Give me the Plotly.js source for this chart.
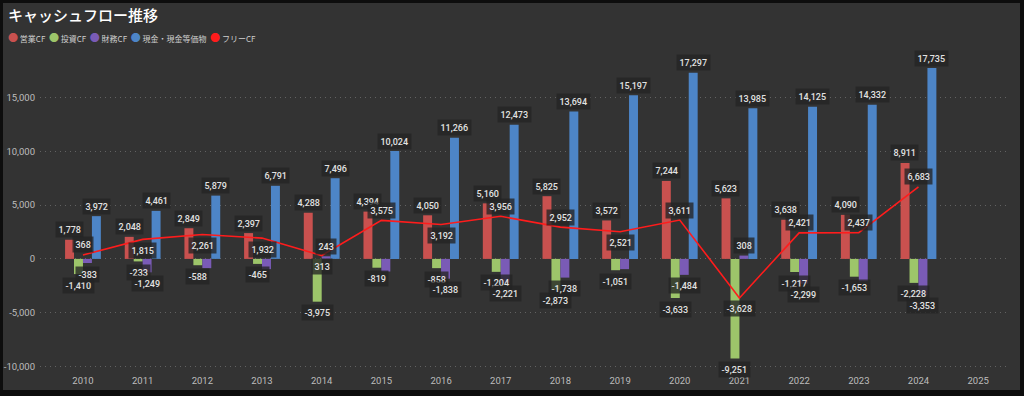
<!DOCTYPE html>
<html>
<head>
<meta charset="utf-8">
<script src="https://cdn.plot.ly/plotly-3.0.1.min.js"></script>
<style>
  html, body { margin: 0; padding: 0; background: #0d0d0d; width: 1024px; height: 396px; overflow: hidden; }
  #chart { position: absolute; left: 3px; top: 3px; width: 1017px; height: 387px; }
</style>
</head>
<body>
<div id="chart"></div>
<script>
// ---- data ----
const years   = ['2010','2011','2012','2013','2014','2015','2016','2017','2018','2019','2020','2021','2022','2023','2024','2025'];
const opCF    = [1778, 2048, 2849, 2397, 4288, 4394, 4050, 5160, 5825, 3572, 7244, 5623, 3638, 4090, 8911, null];
const invCF   = [-1410, -233, -588, -465, -3975, -819, -858, -1204, -2873, -1051, -3633, -9251, -1217, -1653, -2228, null];
const finCF   = [-383, -1249, -860, -950, 243, -1170, -1838, -2221, -1738, -950, -1484, 308, -2299, -2070, -3353, null];
const cash    = [3972, 4461, 5879, 6791, 7496, 10024, 11266, 12473, 13694, 15197, 17297, 13985, 14125, 14332, 17735, null];
const freeCF  = [368, 1815, 2261, 1932, 313, 3575, 3192, 3956, 2952, 2521, 3611, -3628, 2421, 2437, 6683, null];
const seriesNames = ['営業CF', '投資CF', '財務CF', '現金・現金等価物', 'フリーCF'];
const yTickVals  = [-10000, -5000, 0, 5000, 10000, 15000];
const yTickText  = ['-10,000', '-5,000', '0', '5,000', '10,000', '15,000'];

// ---- styling ----
const colors = ['#c9514f', '#9dc56a', '#7a5bb6', '#4d85c7', '#ff1c1c'];
const barOffsets = [-13.5, -4.5, 4.5, 13.5];
const hiddenBarLabels = { 2: ['2012', '2013', '2015', '2019', '2023'] };
const freeLabelSide = ['up','down','down','down','down','up','down','up','up','down','up','down','up','up','up','up'];
const labelFont = { family: 'Roboto, DejaVu Sans, sans-serif', size: 9, color: '#e2e2e2', weight: 500 };
const labelBg = 'rgba(36,36,36,0.78)';
const fmt = v => (v < 0 ? '-' : '') + Math.abs(v).toLocaleString('en-US');

const barSeries = [opCF, invCF, finCF, cash];
const traces = barSeries.map((vals, si) => ({
  type: 'bar', name: seriesNames[si], x: years, y: vals,
  marker: { color: colors[si] }, showlegend: false, hoverinfo: 'skip'
}));
traces.push({
  type: 'scatter', mode: 'lines', name: seriesNames[4], x: years, y: freeCF,
  line: { color: colors[4], width: 1.6 }, showlegend: false, hoverinfo: 'skip'
});

const annotations = [];
barSeries.forEach((vals, si) => {
  vals.forEach((v, i) => {
    if (v === null) return;
    if (hiddenBarLabels[si] && hiddenBarLabels[si].includes(years[i])) return;
    annotations.push({
      x: i, y: v, xref: 'x', yref: 'y', text: fmt(v), showarrow: false,
      xanchor: 'center', yanchor: 'middle',
      xshift: barOffsets[si], yshift: v >= 0 ? 10 : -11,
      font: Object.assign({}, labelFont), bgcolor: labelBg, borderpad: 2.5
    });
  });
});
freeCF.forEach((v, i) => {
  if (v === null) return;
  annotations.push({
    x: i, y: v, xref: 'x', yref: 'y', text: fmt(v), showarrow: false,
    xanchor: 'center', yanchor: 'middle',
    yshift: freeLabelSide[i] === 'up' ? 10 : -11,
    font: Object.assign({}, labelFont), bgcolor: labelBg, borderpad: 2.5
  });
});

// legend drawn as a text row with coloured dots
const legendText = seriesNames.map((n, i) =>
  '<span style="color:' + colors[i] + ';font-size:10px">●</span> ' + n).join('&nbsp;&nbsp;');
annotations.push({
  xref: 'paper', yref: 'paper', x: 0, y: 1, xanchor: 'left', yanchor: 'middle',
  xshift: -34, yshift: 12, showarrow: false, text: legendText,
  font: { family: 'Noto Sans CJK JP, sans-serif', size: 8, color: '#cfcfcf' }
});

const layout = {
  width: 1017, height: 387,
  margin: { l: 37, r: 12, t: 46, b: 17 },
  paper_bgcolor: '#333333', plot_bgcolor: '#333333',
  title: {
    text: 'キャッシュフロー推移',
    xref: 'container', yref: 'container', x: 5 / 1017, xanchor: 'left',
    y: 1 - 13 / 387, yanchor: 'middle',
    font: { family: 'Noto Sans CJK JP, sans-serif', size: 15, color: '#ffffff', weight: 500 }
  },
  barmode: 'group', bargap: 0.4, bargroupgap: 0,
  showlegend: false,
  xaxis: {
    type: 'category', range: [-0.72, 15.5], showgrid: false, zeroline: false,
    showline: false, ticks: '', fixedrange: true,
    tickfont: { family: 'Roboto, sans-serif', size: 9.5, color: '#bdbdbd' }
  },
  yaxis: {
    range: [-10600, 19500], tickvals: yTickVals, ticktext: yTickText,
    showgrid: true, gridcolor: '#626262', griddash: '1px,4px', gridwidth: 1,
    zeroline: false, showline: false, ticks: '', fixedrange: true,
    ticklabelstandoff: 4,
    tickfont: { family: 'Roboto, sans-serif', size: 9.5, color: '#bdbdbd' }
  },
  annotations: annotations,
  hovermode: false
};

Plotly.newPlot('chart', traces, layout, { staticPlot: true, displayModeBar: false });
</script>
</body>
</html>
